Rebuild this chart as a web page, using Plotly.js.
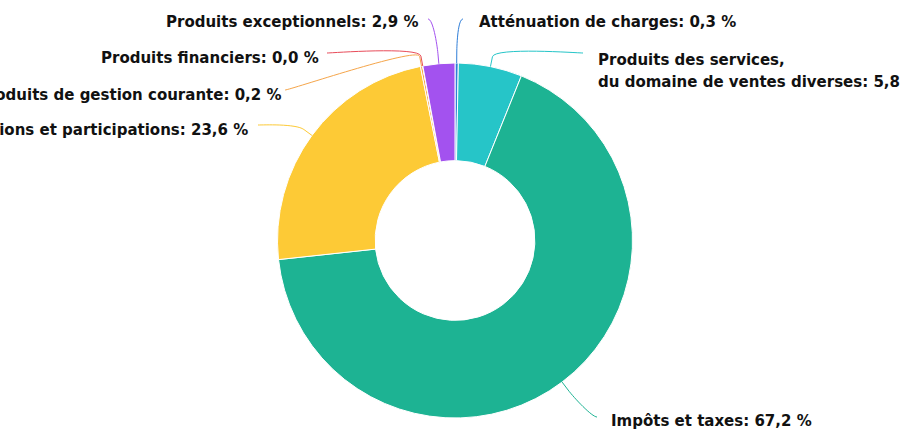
<!DOCTYPE html>
<html>
<head>
<meta charset="utf-8">
<script src="https://cdn.plot.ly/plotly-3.0.1.min.js"></script>
<style>
  html, body { margin: 0; padding: 0; background: #fff; }
  #myPlot { width: 901px; height: 429px; }
</style>
</head>
<body>
<div id="myPlot"></div>
<script>
// Chart data (share of receipts, %)
const labels = [
  'Atténuation de charges',
  'Produits des services,<br>du domaine de ventes diverses',
  'Impôts et taxes',
  'Dotations et participations',
  'Autres produits de gestion courante',
  'Produits financiers',
  'Produits exceptionnels'
];
const values = [0.3, 5.8, 67.2, 23.6, 0.2, 0.02, 2.9];
const shownValues = ['0,3', '5,8', '67,2', '23,6', '0,2', '0,0', '2,9'];
const colors = ['#2f7ed8', '#26c5c8', '#1db393', '#fdca36', '#f5a54a', '#e84c5a', '#a352ef'];

// Where each label sits (pixels): connector end (x, y), text x, text y
const placement = [
  {x: 463, y: 19, tx: 477, ty: 22, side: 'left'},
  {x: 583, y: 53, tx: 596, ty: 71, side: 'left'},
  {x: 597, y: 417, tx: 609, ty: 421, side: 'left'},
  {x: 258, y: 125, tx: 250, ty: 130, side: 'right'},
  {x: 285, y: 90, tx: 283, ty: 95, side: 'right'},
  {x: 327, y: 53, tx: 321, ty: 58, side: 'right'},
  {x: 428, y: 19, tx: 421, ty: 22, side: 'right'}
];

const W = 901, H = 429;
const cx = 455, cy = 240.5, R = 177.5;
const lineGap = 22;

const px = v => v / W;
const py = v => 1 - v / H;

const total = values.reduce((a, b) => a + b, 0);
let cum = 0;
const shapes = [];
const annotations = [];

values.forEach((v, i) => {
  const mid = (cum + v / 2) / total * 2 * Math.PI;
  cum += v;
  const ex = cx + R * Math.sin(mid), ey = cy - R * Math.cos(mid);
  const bx = cx + (R + 10) * Math.sin(mid), by = cy - (R + 10) * Math.cos(mid);
  const p = placement[i];
  const c1x = p.x + (p.side === 'left' ? -5 : 5);
  const path = 'M ' + px(p.x) + ' ' + py(p.y) +
    ' C ' + px(c1x) + ' ' + py(p.y) + ' ' + px(2 * bx - ex) + ' ' + py(2 * by - ey) +
    ' ' + px(bx) + ' ' + py(by) +
    ' L ' + px(ex) + ' ' + py(ey);
  shapes.push({
    type: 'path', xref: 'paper', yref: 'paper', path: path,
    line: {color: colors[i], width: 1}
  });
  // one annotation per text line so the line spacing can be set
  const lines = (labels[i] + ': ' + shownValues[i] + ' %').split('<br>');
  lines.forEach((t, k) => {
    annotations.push({
      xref: 'paper', yref: 'paper',
      x: px(p.tx), y: py(p.ty + (k - (lines.length - 1) / 2) * lineGap),
      xanchor: p.side, yanchor: 'middle', align: 'left',
      showarrow: false,
      text: t,
      font: {family: 'DejaVu Sans', size: 15, color: '#111', weight: 'bold'}
    });
  });
});

const data = [{
  type: 'pie',
  values: values,
  labels: labels,
  sort: false,
  direction: 'clockwise',
  rotation: 0,
  hole: 0.45,
  textinfo: 'none',
  marker: {colors: colors, line: {color: '#ffffff', width: 1}},
  domain: {
    x: [(cx - R) / W, (cx + R) / W],
    y: [(H - cy - R) / H, (H - cy + R) / H]
  },
  showlegend: false
}];

const layout = {
  width: W,
  height: H,
  margin: {l: 0, r: 0, t: 0, b: 0},
  paper_bgcolor: '#ffffff',
  showlegend: false,
  shapes: shapes,
  annotations: annotations
};

Plotly.newPlot('myPlot', data, layout, {displayModeBar: false, staticPlot: true});
</script>
</body>
</html>
